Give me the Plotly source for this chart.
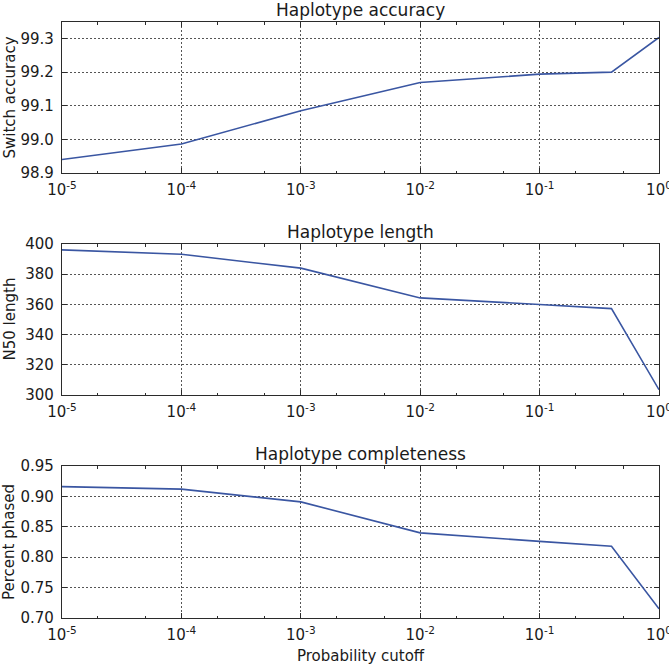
import plotly.graph_objects as go

# Data
cutoffs = [1e-5, 1e-4, 1e-3, 1e-2, 1e-1, 0.4, 1.0]
switch_accuracy = [98.94, 98.986, 99.085, 99.169, 99.194, 99.200, 99.303]
n50_length = [396.1, 393.2, 384.0, 364.3, 359.9, 357.2, 303.5]
percent_phased = [0.916, 0.912, 0.891, 0.840, 0.826, 0.818, 0.715]

titles = ["Haplotype accuracy", "Haplotype length", "Haplotype completeness"]
ylabels = ["Switch accuracy", "N50 length", "Percent phased"]
xlabel = "Probability cutoff"
xtick_vals = [1e-5, 1e-4, 1e-3, 1e-2, 1e-1, 1.0]
xtick_text = ["10<sup>-5</sup>", "10<sup>-4</sup>", "10<sup>-3</sup>",
              "10<sup>-2</sup>", "10<sup>-1</sup>", "10<sup>0</sup>"]
y1_ticks = [98.9, 99.0, 99.1, 99.2, 99.3]
y1_text = ["98.9", "99.0", "99.1", "99.2", "99.3"]
y2_ticks = [300, 320, 340, 360, 380, 400]
y3_ticks = [0.70, 0.75, 0.80, 0.85, 0.90, 0.95]
y3_text = ["0.70", "0.75", "0.80", "0.85", "0.90", "0.95"]

series = [switch_accuracy, n50_length, percent_phased]
yranges = [[98.9, 99.349], [300, 400], [0.70, 0.95]]
yticks = [(y1_ticks, y1_text), (y2_ticks, [str(v) for v in y2_ticks]), (y3_ticks, y3_text)]

W, H = 669, 666
ml, mr, mt, mb = 62, 10, 22, 48
pw = W - ml - mr
ph = H - mt - mb
panels = [(22, 173), (244, 395), (466, 618)]
domains = [[(H - mb - b) / ph, (H - mb - t) / ph] for t, b in panels]

FONT = "DejaVu Sans"
TXT = "#1a1a1a"
fig = go.Figure()
line_color = "#3a56a2"
axis_color = "#2b2b2b"
grid = dict(showgrid=True, gridcolor="#555555", griddash="1.5px,2.5px", gridwidth=1)

for i in range(3):
    xa = "x" if i == 0 else f"x{i+1}"
    ya = "y" if i == 0 else f"y{i+1}"
    fig.add_trace(go.Scatter(x=cutoffs, y=series[i], mode="lines",
                             line=dict(color=line_color, width=1.6),
                             xaxis=xa, yaxis=ya, showlegend=False, cliponaxis=False,
                             hoverinfo="skip"))
    xkey = "xaxis" if i == 0 else f"xaxis{i+1}"
    ykey = "yaxis" if i == 0 else f"yaxis{i+1}"
    fig.layout[xkey] = dict(
        type="log", range=[-5, 0], domain=[0, 1], anchor=ya, automargin=False,
        tickmode="array", tickvals=xtick_vals, ticktext=xtick_text,
        ticks="inside", ticklen=5, tickcolor=axis_color, tickwidth=1,
        minor=dict(ticks="inside", ticklen=2.5, tickcolor=axis_color, showgrid=False),
        showline=True, linecolor=axis_color, linewidth=1.2, mirror="allticks",
        zeroline=False, tickfont=dict(family=FONT, size=15, color=TXT),
        ticklabelstandoff=3, ticklabeloverflow="allow", **grid,
    )
    fig.layout[ykey] = dict(
        range=yranges[i], domain=domains[i], anchor=xa, automargin=False,
        tickmode="array", tickvals=yticks[i][0], ticktext=yticks[i][1],
        ticks="inside", ticklen=5, tickcolor=axis_color, tickwidth=1,
        showline=True, linecolor=axis_color, linewidth=1.2, mirror="allticks",
        zeroline=False, tickfont=dict(family=FONT, size=15, color=TXT),
        ticklabelstandoff=4, **grid,
    )
    fig.add_annotation(text=titles[i], x=0.5, xref="paper", y=domains[i][1], yref="paper",
                       yanchor="bottom", xanchor="center", showarrow=False, yshift=0,
                       font=dict(family=FONT, size=17, color=TXT))
    fig.add_annotation(text=ylabels[i], textangle=-90, x=-(ml - 9) / pw, xref="paper",
                       y=sum(domains[i]) / 2, yref="paper", xanchor="center", yanchor="middle",
                       showarrow=False, font=dict(family=FONT, size=15, color=TXT))

fig.add_annotation(text=xlabel, x=0.5, xref="paper", y=-(656 - (H - mb)) / ph, yref="paper",
                   xanchor="center", yanchor="middle", showarrow=False,
                   font=dict(family=FONT, size=15, color=TXT))

fig.update_layout(width=W, height=H, margin=dict(l=ml, r=mr, t=mt, b=mb, autoexpand=False),
                  plot_bgcolor="white", paper_bgcolor="white", hovermode=False)
fig.write_html("out.html", config={"displayModeBar": False, "staticPlot": True},
               post_script="document.body.style.margin='0';document.body.style.overflow='hidden';")
